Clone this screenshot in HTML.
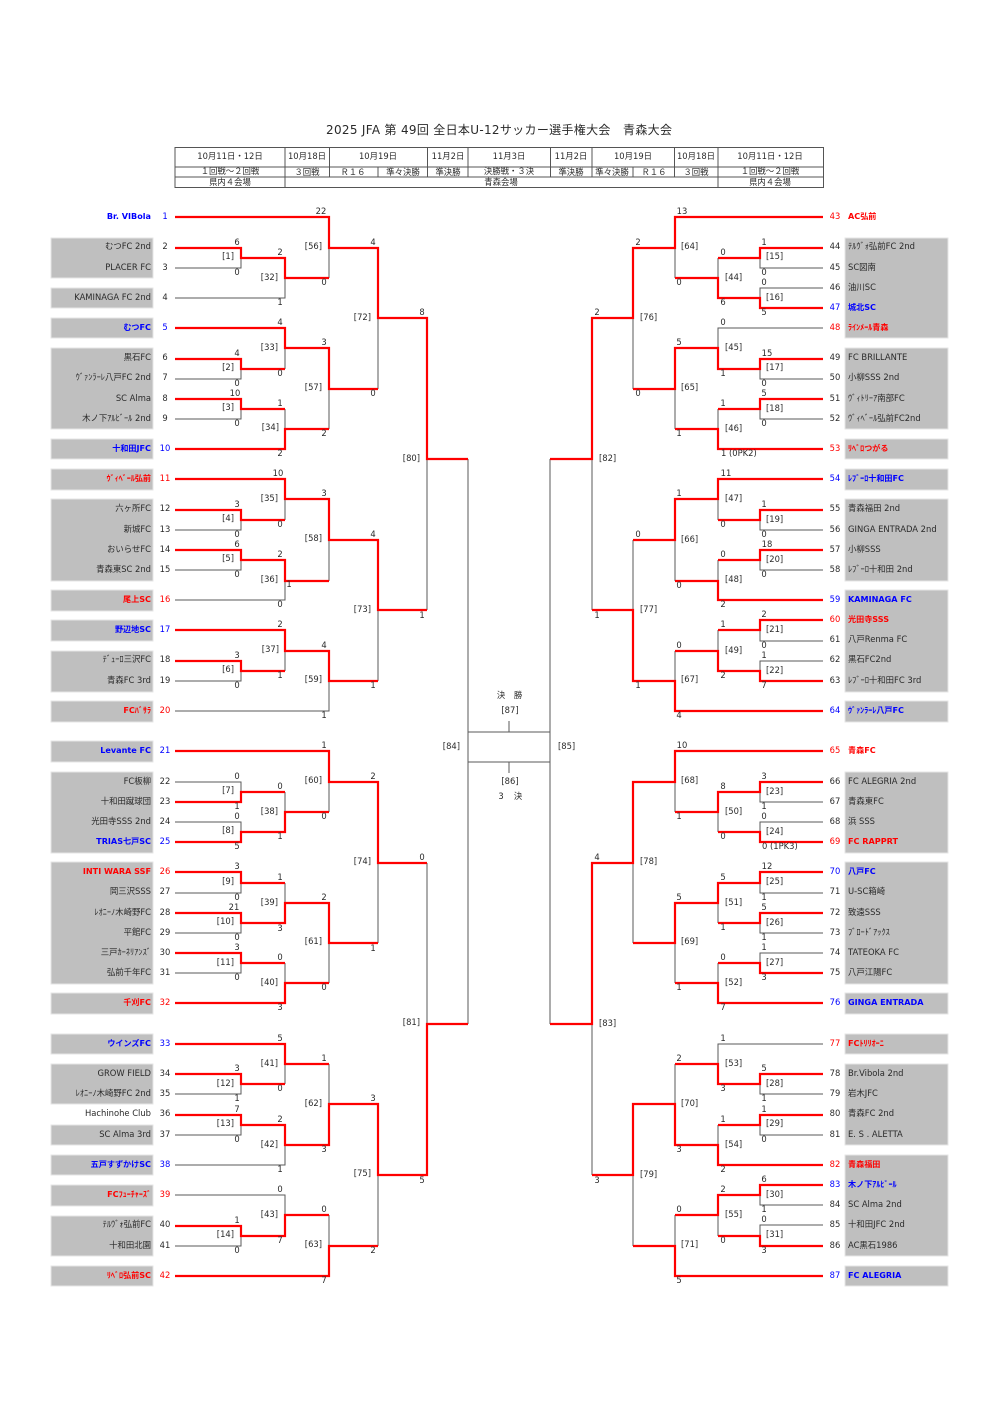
<!DOCTYPE html>
<html><head><meta charset="utf-8"><style>
html,body{margin:0;padding:0;background:#fff}
svg{display:block}
text{font-family:"DejaVu Sans","Noto Sans CJK JP",sans-serif;font-size:8.4px;fill:#2a2a2a}
text.b{font-weight:bold;font-size:8.1px}
.bl,.bl text{fill:#00f}
.rd,.rd text{fill:#f00}
</style></head><body>
<svg xmlns="http://www.w3.org/2000/svg" width="1000" height="1413" viewBox="0 0 1000 1413">
<text x="499" y="134" text-anchor="middle" textLength="346" lengthAdjust="spacing" style="font-size:12px">2025 JFA 第 49回 全日本U-12サッカー選手権大会　青森大会</text>
<g fill="none" stroke="#555" stroke-width="1">
<path d="M175 147.5H823.5V187.5H175ZM175 167H823.5M175 177H823.5M285 147.5V187.5M718 147.5V187.5M329.500 147.5V177M427.500 147.500V177M468 147.500V177M550.500 147.500V177M592 147.500V177M674.500 147.500V177M378 167V177M633 167V177"/>
</g>
<g text-anchor="middle">
<text x="230" y="159">10月11日・12日</text><text x="307" y="159">10月18日</text><text x="378" y="159">10月19日</text><text x="448" y="159">11月2日</text><text x="509" y="159">11月3日</text><text x="571" y="159">11月2日</text><text x="633" y="159">10月19日</text><text x="696" y="159">10月18日</text><text x="770" y="159">10月11日・12日</text>
<text x="230" y="174">１回戦～２回戦</text><text x="307" y="175">３回戦</text><text x="353" y="175">Ｒ１６</text><text x="403" y="175">準々決勝</text><text x="448" y="175">準決勝</text><text x="509" y="174">決勝戦・３決</text><text x="571" y="175">準決勝</text><text x="612" y="175">準々決勝</text><text x="654" y="175">Ｒ１６</text><text x="696" y="175">３回戦</text><text x="770" y="174">１回戦～２回戦</text>
<text x="230" y="185">県内４会場</text><text x="501" y="185">青森会場</text><text x="770" y="185">県内４会場</text>
</g>
<g fill="#bfbfbf" stroke="#e6e6e6" stroke-width="1">
<rect x="51" y="238" width="102" height="40"/><rect x="51" y="288" width="102" height="20"/><rect x="51" y="318" width="102" height="20"/><rect x="51" y="348" width="102" height="81"/><rect x="51" y="439" width="102" height="20"/><rect x="51" y="469" width="102" height="21"/><rect x="51" y="499" width="102" height="82"/><rect x="51" y="590" width="102" height="21"/><rect x="51" y="620" width="102" height="21"/><rect x="51" y="651" width="102" height="41"/><rect x="51" y="701" width="102" height="21"/><rect x="51" y="741" width="102" height="21"/><rect x="51" y="772" width="102" height="81"/><rect x="51" y="862" width="102" height="122"/><rect x="51" y="993" width="102" height="21"/><rect x="51" y="1034" width="102" height="20"/><rect x="51" y="1064" width="102" height="40"/><rect x="51" y="1125" width="102" height="20"/><rect x="51" y="1155" width="102" height="20"/><rect x="51" y="1185" width="102" height="21"/><rect x="51" y="1216" width="102" height="40"/><rect x="51" y="1266" width="102" height="20"/>
<rect x="845" y="238" width="103" height="100"/><rect x="845" y="348" width="103" height="81"/><rect x="845" y="439" width="103" height="20"/><rect x="845" y="469" width="103" height="21"/><rect x="845" y="499" width="103" height="82"/><rect x="845" y="590" width="103" height="102"/><rect x="845" y="701" width="103" height="21"/><rect x="845" y="772" width="103" height="81"/><rect x="845" y="862" width="103" height="122"/><rect x="845" y="993" width="103" height="21"/><rect x="845" y="1034" width="103" height="20"/><rect x="845" y="1064" width="103" height="81"/><rect x="845" y="1155" width="103" height="101"/><rect x="845" y="1266" width="103" height="20"/>
</g>
<!-- gray connectors -->
<path fill="none" stroke="#5a5a5a" stroke-width="1" d="M175 268H241V258M175 298H285V278M329 248V278M285 348V369M175 379H241V369M175 419H241V409M285 409V429M329 389V429M378 318V389M285 499V520M175 530H241V520M175 570H241V560M175 600H285V581M329 540V581M285 651V671M175 681H241V671M175 711H329V681M378 610V681M427 459V610M329 782V812M175 782H241V792M175 822H241V832M285 792V812M175 893H241V883M175 933H241V923M285 883V903M175 973H241V963M285 963V983M329 943V983M378 863V943M427 863V1024M285 1064V1084M175 1094H241V1084M175 1135H241V1125M175 1165H285V1145M329 1064V1104M175 1195H285V1215M175 1246H241V1236M329 1215V1246M378 1175V1246
M468 459V1024M550 459V1024M468 732H550M468 762H550M509 721V732M509 762V773
M823 268H760V258M823 288H760V298M718 258V278M675 248V278M633 318V389M823 379H760V369M823 419H760V409M823 328H718V348M718 409V429M675 389V429M592 459V610M823 530H760V520M718 499V520M823 570H760V560M718 560V581M675 540V581M633 540V610M823 641H760V630M823 661H760V671M718 630V651M675 651V681M823 802H760V792M823 822H760V832M718 812V832M675 782V812M823 893H760V883M823 933H760V923M718 903V923M823 953H760V963M718 963V983M675 943V983M633 863V943M823 1044H718V1064M823 1094H760V1084M823 1135H760V1125M718 1125V1145M675 1064V1104M823 1205H760V1195M823 1225H760V1236M718 1215V1236M675 1215V1246M633 1175V1246M592 1024V1175"/>
<!-- red connectors -->
<path fill="none" stroke="#f00" stroke-width="2.200" stroke-linejoin="miter" d="M175 248H241V258H285V278H329M175 217H329V248H378V318H427V459H468M175 328H285V348H329V389H378M175 359H241V369H285M175 399H241V409H285M175 449H285V429H329M175 479H285V499H329V540H378V610H427M175 510H241V520H285M175 550H241V560H285V581H329M175 630H285V651H329V681H378M175 661H241V671H285M175 751H329V782H378V863H427M175 802H241V792H285M175 842H241V832H285V812H329M175 872H241V883H285M175 913H241V923H285V903H329V943H378M175 953H241V963H285M175 1003H285V983H329M175 1044H285V1064H329M175 1074H241V1084H285M175 1115H241V1125H285V1145H329V1104H378V1175H427V1024H468M175 1226H241V1236H285V1215H329M175 1276H329V1246H378
M823 217H675V248H633V318H592V459H550M823 248H760V258H718M823 308H760V298H718V278H675M823 359H760V369H718V348H675V389H633M823 399H760V409H718M823 449H718V429H675M823 479H718V499H675V540H633M823 510H760V520H718M823 550H760V560H718M823 600H718V581H675M823 620H760V630H718M823 681H760V671H718V651H675M823 711H675V681H633V610H592M823 751H675V782H633V863H592V1024H550M823 782H760V792H718V812H675M823 842H760V832H718M823 872H760V883H718V903H675V943H633M823 913H760V923H718M823 973H760V963H718M823 1003H718V983H675M823 1074H760V1084H718V1064H675M823 1115H760V1125H718M823 1165H718V1145H675V1104H633V1175H592M823 1185H760V1195H718V1215H675M823 1246H760V1236H718M823 1276H675V1246H633"/>
<!-- left names -->
<g text-anchor="end">
<text class="b bl" x="151" y="219">Br. VIBola</text><text x="151" y="249">むつFC 2nd</text><text x="151" y="270">PLACER FC</text><text x="151" y="300">KAMINAGA FC 2nd</text><text class="b bl" x="151" y="330">むつFC</text><text x="151" y="360">黒石FC</text><text x="151" y="380">ｳﾞｧﾝﾗｰﾚ八戸FC 2nd</text><text x="151" y="401">SC Alma</text><text x="151" y="421">木ノ下ｱﾙﾋﾞｰﾙ 2nd</text><text class="b bl" x="151" y="451">十和田JFC</text>
<text class="b rd" x="151" y="481">ｳﾞｨﾍﾞｰﾙ弘前</text><text x="151" y="511">六ヶ所FC</text><text x="151" y="532">新城FC</text><text x="151" y="552">おいらせFC</text><text x="151" y="572">青森東SC 2nd</text><text class="b rd" x="151" y="602">尾上SC</text><text class="b bl" x="151" y="632">野辺地SC</text><text x="151" y="662">ﾃﾞｭｰﾛ三沢FC</text><text x="151" y="683">青森FC 3rd</text><text class="b rd" x="151" y="713">FCﾊﾞｻﾗ</text>
<text class="b bl" x="151" y="753">Levante FC</text><text x="151" y="784">FC板柳</text><text x="151" y="804">十和田蹴球団</text><text x="151" y="824">光田寺SSS 2nd</text><text class="b bl" x="151" y="844">TRIAS七戸SC</text><text class="b rd" x="151" y="874">INTI WARA SSF</text><text x="151" y="894">岡三沢SSS</text><text x="151" y="915">ﾚｵﾆｰﾉ木崎野FC</text><text x="151" y="935">平館FC</text><text x="151" y="955">三戸ｶｰﾈﾘｱﾝｽﾞ</text><text x="151" y="975">弘前千年FC</text><text class="b rd" x="151" y="1005">千刈FC</text>
<text class="b bl" x="151" y="1046">ウインズFC</text><text x="151" y="1076">GROW FIELD</text><text x="151" y="1096">ﾚｵﾆｰﾉ木崎野FC 2nd</text><text x="151" y="1116">Hachinohe Club</text><text x="151" y="1137">SC Alma 3rd</text><text class="b bl" x="151" y="1167">五戸すずかけSC</text><text class="b rd" x="151" y="1197">FCﾌｭｰﾁｬｰｽﾞ</text><text x="151" y="1227">ﾃﾙｳﾞｫ弘前FC</text><text x="151" y="1248">十和田北園</text><text class="b rd" x="151" y="1278">ﾘﾍﾞﾛ弘前SC</text>
</g>
<!-- left numbers -->
<g text-anchor="middle">
<text class="bl" x="165" y="219">1</text><text x="165" y="249">2</text><text x="165" y="270">3</text><text x="165" y="300">4</text><text class="bl" x="165" y="330">5</text><text x="165" y="360">6</text><text x="165" y="380">7</text><text x="165" y="401">8</text><text x="165" y="421">9</text><text class="bl" x="165" y="451">10</text>
<text class="rd" x="165" y="481">11</text><text x="165" y="511">12</text><text x="165" y="532">13</text><text x="165" y="552">14</text><text x="165" y="572">15</text><text class="rd" x="165" y="602">16</text><text class="bl" x="165" y="632">17</text><text x="165" y="662">18</text><text x="165" y="683">19</text><text class="rd" x="165" y="713">20</text>
<text class="bl" x="165" y="753">21</text><text x="165" y="784">22</text><text x="165" y="804">23</text><text x="165" y="824">24</text><text class="bl" x="165" y="844">25</text><text class="rd" x="165" y="874">26</text><text x="165" y="894">27</text><text x="165" y="915">28</text><text x="165" y="935">29</text><text x="165" y="955">30</text><text x="165" y="975">31</text><text class="rd" x="165" y="1005">32</text>
<text class="bl" x="165" y="1046">33</text><text x="165" y="1076">34</text><text x="165" y="1096">35</text><text x="165" y="1116">36</text><text x="165" y="1137">37</text><text class="bl" x="165" y="1167">38</text><text class="rd" x="165" y="1197">39</text><text x="165" y="1227">40</text><text x="165" y="1248">41</text><text class="rd" x="165" y="1278">42</text>
<!-- right numbers -->
<text class="rd" x="835" y="219">43</text><text x="835" y="249">44</text><text x="835" y="270">45</text><text x="835" y="290">46</text><text class="bl" x="835" y="310">47</text><text class="rd" x="835" y="330">48</text><text x="835" y="360">49</text><text x="835" y="380">50</text><text x="835" y="401">51</text><text x="835" y="421">52</text><text class="rd" x="835" y="451">53</text>
<text class="bl" x="835" y="481">54</text><text x="835" y="511">55</text><text x="835" y="532">56</text><text x="835" y="552">57</text><text x="835" y="572">58</text><text class="bl" x="835" y="602">59</text><text class="rd" x="835" y="622">60</text><text x="835" y="642">61</text><text x="835" y="662">62</text><text x="835" y="683">63</text><text class="bl" x="835" y="713">64</text>
<text class="rd" x="835" y="753">65</text><text x="835" y="784">66</text><text x="835" y="804">67</text><text x="835" y="824">68</text><text class="rd" x="835" y="844">69</text><text class="bl" x="835" y="874">70</text><text x="835" y="894">71</text><text x="835" y="915">72</text><text x="835" y="935">73</text><text x="835" y="955">74</text><text x="835" y="975">75</text><text class="bl" x="835" y="1005">76</text>
<text class="rd" x="835" y="1046">77</text><text x="835" y="1076">78</text><text x="835" y="1096">79</text><text x="835" y="1116">80</text><text x="835" y="1137">81</text><text class="rd" x="835" y="1167">82</text><text class="bl" x="835" y="1187">83</text><text x="835" y="1207">84</text><text x="835" y="1227">85</text><text x="835" y="1248">86</text><text class="bl" x="835" y="1278">87</text>
</g>
<!-- right names -->
<g>
<text class="b rd" x="848" y="219">AC弘前</text><text x="848" y="249">ﾃﾙｳﾞｫ弘前FC 2nd</text><text x="848" y="270">SC図南</text><text x="848" y="290">油川SC</text><text class="b bl" x="848" y="310">城北SC</text><text class="b rd" x="848" y="330">ﾗｲﾝﾒｰﾙ青森</text><text x="848" y="360">FC BRILLANTE</text><text x="848" y="380">小柳SSS 2nd</text><text x="848" y="401">ｳﾞｨﾄﾘｰｱ南部FC</text><text x="848" y="421">ｳﾞｨﾍﾞｰﾙ弘前FC2nd</text><text class="b rd" x="848" y="451">ﾘﾍﾞﾛつがる</text>
<text class="b bl" x="848" y="481">ﾚﾌﾞｰﾛ十和田FC</text><text x="848" y="511">青森福田 2nd</text><text x="848" y="532">GINGA ENTRADA 2nd</text><text x="848" y="552">小柳SSS</text><text x="848" y="572">ﾚﾌﾞｰﾛ十和田 2nd</text><text class="b bl" x="848" y="602">KAMINAGA FC</text><text class="b rd" x="848" y="622">光田寺SSS</text><text x="848" y="642">八戸Renma FC</text><text x="848" y="662">黒石FC2nd</text><text x="848" y="683">ﾚﾌﾞｰﾛ十和田FC 3rd</text><text class="b bl" x="848" y="713">ｳﾞｧﾝﾗｰﾚ八戸FC</text>
<text class="b rd" x="848" y="753">青森FC</text><text x="848" y="784">FC ALEGRIA 2nd</text><text x="848" y="804">青森東FC</text><text x="848" y="824">浜 SSS</text><text class="b rd" x="848" y="844">FC RAPPRT</text><text class="b bl" x="848" y="874">八戸FC</text><text x="848" y="894">U-SC箱崎</text><text x="848" y="915">致遠SSS</text><text x="848" y="935">ﾌﾞﾛｰﾄﾞｱｯｸｽ</text><text x="848" y="955">TATEOKA FC</text><text x="848" y="975">八戸江陽FC</text><text class="b bl" x="848" y="1005">GINGA ENTRADA</text>
<text class="b rd" x="848" y="1046">FCﾄﾘﾘｵｰﾆ</text><text x="848" y="1076">Br.Vibola 2nd</text><text x="848" y="1096">岩木JFC</text><text x="848" y="1116">青森FC 2nd</text><text x="848" y="1137">E. S . ALETTA</text><text class="b rd" x="848" y="1167">青森福田</text><text class="b bl" x="848" y="1187">木ノ下ｱﾙﾋﾞｰﾙ</text><text x="848" y="1207">SC Alma 2nd</text><text x="848" y="1227">十和田JFC 2nd</text><text x="848" y="1248">AC黒石1986</text><text class="b bl" x="848" y="1278">FC ALEGRIA</text>
</g>
<!-- scores left -->
<g text-anchor="middle">
<text x="237" y="245">6</text><text x="237" y="275">0</text><text x="237" y="356">4</text><text x="237" y="386">0</text><text x="235" y="396">10</text><text x="237" y="426">0</text><text x="237" y="507">3</text><text x="237" y="537">0</text><text x="237" y="547">6</text><text x="237" y="577">0</text><text x="237" y="658">3</text><text x="237" y="688">0</text><text x="237" y="779">0</text><text x="237" y="809">1</text><text x="237" y="819">0</text><text x="237" y="849">5</text><text x="237" y="869">3</text><text x="237" y="900">0</text><text x="234" y="910">21</text><text x="237" y="940">0</text><text x="237" y="950">3</text><text x="237" y="980">0</text><text x="237" y="1071">3</text><text x="237" y="1101">1</text><text x="237" y="1112">7</text><text x="237" y="1142">0</text><text x="237" y="1223">1</text><text x="237" y="1253">0</text>
<text x="280" y="255">2</text><text x="280" y="305">1</text><text x="280" y="325">4</text><text x="280" y="376">0</text><text x="280" y="406">1</text><text x="280" y="456">2</text><text x="278" y="476">10</text><text x="280" y="527">0</text><text x="280" y="557">2</text><text x="280" y="607">0</text><text x="280" y="627">2</text><text x="280" y="678">1</text><text x="280" y="789">0</text><text x="280" y="839">1</text><text x="280" y="880">1</text><text x="280" y="931">3</text><text x="280" y="960">0</text><text x="280" y="1010">3</text><text x="280" y="1041">5</text><text x="280" y="1091">0</text><text x="280" y="1122">2</text><text x="280" y="1172">1</text><text x="280" y="1192">0</text><text x="280" y="1243">7</text>
<text x="321" y="214">22</text><text x="324" y="285">0</text><text x="324" y="345">3</text><text x="324" y="436">2</text><text x="324" y="496">3</text><text x="289" y="587">1</text><text x="324" y="648">4</text><text x="324" y="718">1</text><text x="324" y="748">1</text><text x="324" y="819">0</text><text x="324" y="900">2</text><text x="324" y="990">0</text><text x="324" y="1061">1</text><text x="324" y="1152">3</text><text x="324" y="1212">0</text><text x="324" y="1283">7</text>
<text x="373" y="245">4</text><text x="373" y="396">0</text><text x="373" y="537">4</text><text x="373" y="688">1</text><text x="373" y="779">2</text><text x="373" y="951">1</text><text x="373" y="1101">3</text><text x="373" y="1253">2</text>
<text x="422" y="315">8</text><text x="422" y="618">1</text><text x="422" y="860">0</text><text x="422" y="1183">5</text>
<!-- scores right -->
<text x="764" y="245">1</text><text x="764" y="275">0</text><text x="764" y="285">0</text><text x="764" y="315">5</text><text x="767" y="356">15</text><text x="764" y="386">0</text><text x="764" y="396">5</text><text x="764" y="426">0</text><text x="764" y="507">1</text><text x="764" y="537">0</text><text x="767" y="547">18</text><text x="764" y="577">0</text><text x="764" y="617">2</text><text x="764" y="648">0</text><text x="764" y="658">1</text><text x="764" y="688">7</text><text x="764" y="779">3</text><text x="764" y="809">1</text><text x="764" y="819">0</text><text x="767" y="869">12</text><text x="764" y="900">1</text><text x="764" y="910">5</text><text x="764" y="940">1</text><text x="764" y="950">1</text><text x="764" y="980">3</text><text x="764" y="1071">5</text><text x="764" y="1101">1</text><text x="764" y="1112">1</text><text x="764" y="1142">0</text><text x="764" y="1182">6</text><text x="764" y="1212">1</text><text x="764" y="1222">0</text><text x="764" y="1253">3</text>
<text x="723" y="255">0</text><text x="723" y="305">6</text><text x="723" y="325">0</text><text x="723" y="376">1</text><text x="723" y="406">1</text><text x="726" y="476">11</text><text x="723" y="527">0</text><text x="723" y="557">0</text><text x="723" y="607">2</text><text x="723" y="627">1</text><text x="723" y="678">2</text><text x="723" y="789">8</text><text x="723" y="839">0</text><text x="723" y="880">5</text><text x="723" y="930">1</text><text x="723" y="960">0</text><text x="723" y="1010">7</text><text x="723" y="1041">1</text><text x="723" y="1091">3</text><text x="723" y="1122">1</text><text x="723" y="1172">2</text><text x="723" y="1192">2</text><text x="723" y="1243">0</text>
<text x="682" y="214">13</text><text x="679" y="285">0</text><text x="679" y="345">5</text><text x="679" y="436">1</text><text x="679" y="496">1</text><text x="679" y="588">0</text><text x="679" y="648">0</text><text x="679" y="718">4</text><text x="682" y="748">10</text><text x="679" y="819">1</text><text x="679" y="900">5</text><text x="679" y="990">1</text><text x="679" y="1061">2</text><text x="679" y="1152">3</text><text x="679" y="1212">0</text><text x="679" y="1283">5</text>
<text x="638" y="245">2</text><text x="638" y="396">0</text><text x="638" y="537">0</text><text x="638" y="688">1</text>
<text x="597" y="315">2</text><text x="597" y="618">1</text><text x="597" y="860">4</text><text x="597" y="1183">3</text>
<text x="501" y="698">決</text><text x="518" y="698">勝</text><text x="510" y="713">[87]</text><text x="510" y="784">[86]</text><text x="501" y="799">3</text><text x="518" y="799">決</text>
</g>
<text x="762" y="849">0 (1PK3)</text><text x="721" y="456">1 (0PK2)</text>
<!-- match labels left -->
<g text-anchor="end">
<text x="234" y="259">[1]</text><text x="234" y="370">[2]</text><text x="234" y="410">[3]</text><text x="234" y="521">[4]</text><text x="234" y="561">[5]</text><text x="234" y="672">[6]</text><text x="234" y="793">[7]</text><text x="234" y="833">[8]</text><text x="234" y="884">[9]</text><text x="234" y="924">[10]</text><text x="234" y="965">[11]</text><text x="234" y="1086">[12]</text><text x="234" y="1126">[13]</text><text x="234" y="1237">[14]</text>
<text x="278" y="280">[32]</text><text x="278" y="350">[33]</text><text x="279" y="430">[34]</text><text x="278" y="501">[35]</text><text x="278" y="582">[36]</text><text x="279" y="652">[37]</text><text x="278" y="814">[38]</text><text x="278" y="905">[39]</text><text x="278" y="985">[40]</text><text x="278" y="1066">[41]</text><text x="278" y="1147">[42]</text><text x="278" y="1217">[43]</text>
<text x="322" y="249">[56]</text><text x="322" y="390">[57]</text><text x="322" y="541">[58]</text><text x="322" y="682">[59]</text><text x="322" y="783">[60]</text><text x="322" y="944">[61]</text><text x="322" y="1106">[62]</text><text x="322" y="1247">[63]</text>
<text x="371" y="320">[72]</text><text x="371" y="612">[73]</text><text x="371" y="864">[74]</text><text x="371" y="1176">[75]</text>
<text x="420" y="461">[80]</text><text x="420" y="1025">[81]</text><text x="460" y="749">[84]</text>
</g>
<!-- match labels right -->
<g>
<text x="766" y="259">[15]</text><text x="766" y="300">[16]</text><text x="766" y="370">[17]</text><text x="766" y="411">[18]</text><text x="766" y="522">[19]</text><text x="766" y="562">[20]</text><text x="766" y="632">[21]</text><text x="766" y="673">[22]</text><text x="766" y="794">[23]</text><text x="766" y="834">[24]</text><text x="766" y="884">[25]</text><text x="766" y="925">[26]</text><text x="766" y="965">[27]</text><text x="766" y="1086">[28]</text><text x="766" y="1126">[29]</text><text x="766" y="1197">[30]</text><text x="766" y="1237">[31]</text>
<text x="725" y="280">[44]</text><text x="725" y="350">[45]</text><text x="725" y="431">[46]</text><text x="725" y="501">[47]</text><text x="725" y="582">[48]</text><text x="725" y="653">[49]</text><text x="725" y="814">[50]</text><text x="725" y="905">[51]</text><text x="725" y="985">[52]</text><text x="725" y="1066">[53]</text><text x="725" y="1147">[54]</text><text x="725" y="1217">[55]</text>
<text x="681" y="249">[64]</text><text x="681" y="390">[65]</text><text x="681" y="542">[66]</text><text x="681" y="682">[67]</text><text x="681" y="783">[68]</text><text x="681" y="944">[69]</text><text x="681" y="1106">[70]</text><text x="681" y="1247">[71]</text>
<text x="640" y="320">[76]</text><text x="640" y="612">[77]</text><text x="640" y="864">[78]</text><text x="640" y="1177">[79]</text>
<text x="599" y="461">[82]</text><text x="599" y="1026">[83]</text><text x="558" y="749">[85]</text>
</g>
</svg>
</body></html>
